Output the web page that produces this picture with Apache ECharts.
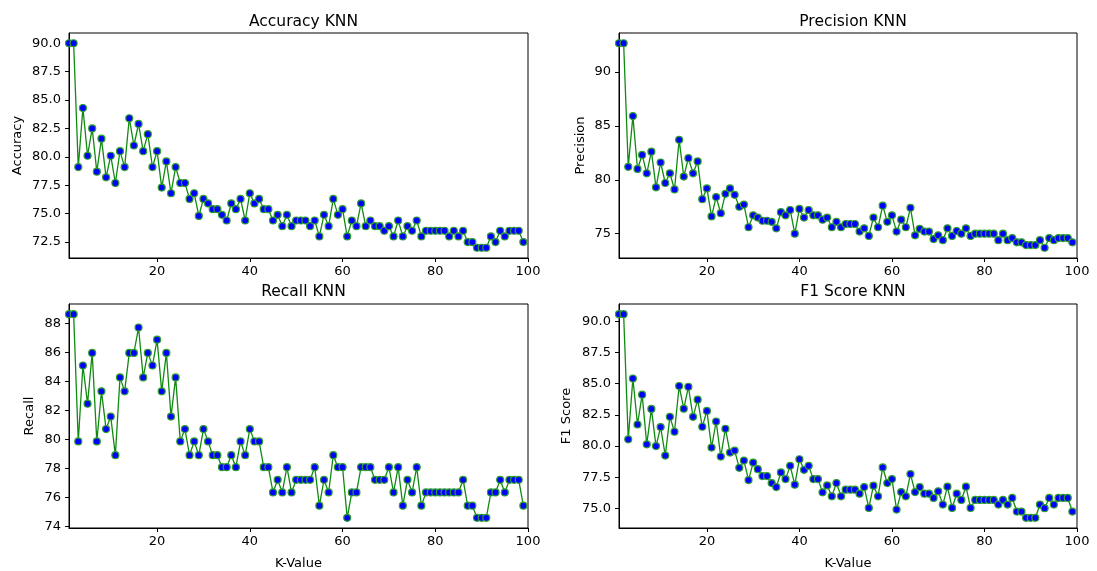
<!DOCTYPE html>
<html>
<head>
<meta charset="utf-8">
<script src="https://cdn.jsdelivr.net/npm/echarts@6/dist/echarts.min.js"></script>
<style>
html,body{margin:0;padding:0;background:#fff;}
#chart{width:1097px;height:571px;}
</style>
</head>
<body>
<div id="chart"></div>
<script>
const kValues = [1,2,3,4,5,6,7,8,9,10,11,12,13,14,15,16,17,18,19,20,21,22,23,24,25,26,27,28,29,30,31,32,33,34,35,36,37,38,39,40,41,42,43,44,45,46,47,48,49,50,51,52,53,54,55,56,57,58,59,60,61,62,63,64,65,66,67,68,69,70,71,72,73,74,75,76,77,78,79,80,81,82,83,84,85,86,87,88,89,90,91,92,93,94,95,96,97,98,99];

const accuracy = [90.0,90.0,79.1,84.3,80.1,82.5,78.7,81.6,78.2,80.1,77.7,80.5,79.1,83.4,81.0,82.9,80.5,82.0,79.1,80.5,
77.3,79.6,76.8,79.1,77.7,77.7,76.3,76.8,74.8,76.3,75.9,75.4,75.4,74.9,74.4,75.9,75.4,76.3,74.4,76.8,
75.9,76.3,75.4,75.4,74.4,74.9,73.9,74.9,73.9,74.4,74.4,74.4,73.9,74.4,73.0,74.9,73.9,76.3,74.9,75.4,
73.0,74.4,73.9,75.9,73.9,74.4,73.9,73.9,73.5,73.9,73.0,74.4,73.0,73.9,73.5,74.4,73.0,73.5,73.5,73.5,
73.5,73.5,73.0,73.5,73.0,73.5,72.5,72.5,72.0,72.0,72.0,73.0,72.5,73.5,73.0,73.5,73.5,73.5,72.5];

const precision = [92.65,92.65,81.2,85.9,81.0,82.3,80.6,82.6,79.3,81.6,79.7,80.6,79.1,83.7,80.3,82.0,80.6,81.7,78.2,79.2,
76.6,78.4,76.9,78.7,79.2,78.6,77.5,77.7,75.6,76.7,76.5,76.2,76.2,76.1,75.5,77.0,76.7,77.2,75.0,77.3,
76.5,77.2,76.7,76.7,76.3,76.5,75.6,76.1,75.6,75.9,75.9,75.9,75.2,75.5,74.8,76.5,75.6,77.6,76.1,76.7,
75.2,76.3,75.6,77.4,74.85,75.45,75.2,75.2,74.5,74.85,74.4,75.5,74.8,75.25,75.0,75.5,74.8,75.0,75.0,75.0,
75.0,75.0,74.4,75.0,74.4,74.6,74.2,74.2,73.95,73.95,73.95,74.4,73.7,74.6,74.4,74.6,74.6,74.6,74.2];

const recall = [88.62,88.62,79.85,85.08,82.45,85.95,79.85,83.3,80.7,81.56,78.9,84.26,83.3,85.95,85.95,87.7,84.26,85.95,85.08,86.86,
83.3,85.95,81.56,84.26,79.85,80.7,78.9,79.85,78.9,80.7,79.85,78.9,78.9,78.07,78.07,78.9,78.07,79.85,78.9,80.7,
79.85,79.85,78.07,78.07,76.33,77.2,76.33,78.07,76.33,77.2,77.2,77.2,77.2,78.07,75.42,77.2,76.33,78.9,78.07,78.07,
74.58,76.33,76.33,78.07,78.07,78.07,77.2,77.2,77.2,78.07,76.33,78.07,75.42,77.2,76.33,78.07,75.42,76.33,76.33,76.33,
76.33,76.33,76.33,76.33,76.33,77.2,75.42,75.42,74.58,74.58,74.58,76.33,76.33,77.2,76.33,77.2,77.2,77.2,75.42];

const f1Score = [90.56,90.56,80.54,85.41,81.73,84.12,80.14,82.98,80.0,81.52,79.24,82.34,81.15,84.81,83.0,84.75,82.34,83.72,81.55,82.82,
79.88,81.97,79.16,81.39,79.48,79.64,78.26,78.84,77.28,78.68,78.15,77.6,77.6,77.04,76.72,77.89,77.36,78.42,76.91,78.95,
78.1,78.42,77.36,77.36,76.3,76.85,75.98,77.04,75.98,76.51,76.51,76.51,76.19,76.72,75.05,76.83,75.98,78.29,77.04,77.36,
74.92,76.32,75.98,77.76,76.32,76.72,76.19,76.19,75.85,76.38,75.32,76.75,75.05,76.19,75.69,76.75,75.05,75.69,75.69,75.69,
75.69,75.69,75.32,75.69,75.32,75.85,74.76,74.76,74.26,74.26,74.26,75.32,75.03,75.85,75.32,75.85,75.85,75.85,74.76];

const titles = ['Accuracy KNN', 'Precision KNN', 'Recall KNN', 'F1 Score KNN'];
const yNames = ['Accuracy', 'Precision', 'Recall', 'F1 Score'];
const xName = 'K-Value';
const xTicks = [20, 40, 60, 80, 100];
const accTicks = [72.5, 75.0, 77.5, 80.0, 82.5, 85.0, 87.5, 90.0];
const precTicks = [75, 80, 85, 90];
const recTicks = [74, 76, 78, 80, 82, 84, 86, 88];
const f1Ticks = [75.0, 77.5, 80.0, 82.5, 85.0, 87.5, 90.0];

const FONT = 'DejaVu Sans';
const seriesValues = [accuracy, precision, recall, f1Score];
const yTicks = [accTicks, precTicks, recTicks, f1Ticks];
const yDecimals = [1, 0, 0, 1];
const yRanges = [[71.1, 90.9], [72.75, 93.6], [73.88, 89.32], [73.445, 91.375]];
const grids = [
  {left: 69, top: 33, width: 459, height: 225},
  {left: 619, top: 33, width: 458, height: 225},
  {left: 69, top: 304, width: 459, height: 224},
  {left: 619, top: 304, width: 458, height: 224}
];
const yNameGaps = [45, 32, 33, 46];

const chart = echarts.init(document.getElementById('chart'), null, {renderer: 'canvas'});

const option = {
  backgroundColor: '#ffffff',
  animation: false,
  textStyle: {fontFamily: FONT},
  title: titles.map((t, i) => ({
    text: t,
    left: grids[i].left + grids[i].width / 2,
    top: i < 2 ? 9 : 279,
    textAlign: 'center',
    textStyle: {fontFamily: FONT, fontSize: 15.5, fontWeight: 'normal', color: '#000'}
  })),
  grid: grids.map(g => Object.assign({show: true, borderColor: '#000', borderWidth: 1, backgroundColor: 'transparent', containLabel: false}, g)),
  xAxis: grids.map((g, i) => ({
    type: 'value',
    gridIndex: i,
    min: 1,
    max: 100,
    name: i >= 2 ? xName : '',
    nameLocation: 'middle',
    nameGap: 29,
    nameTextStyle: {fontFamily: FONT, fontSize: 13, color: '#000'},
    axisLine: {show: true, onZero: false, lineStyle: {color: '#000', width: 1}},
    axisTick: {show: true, length: 4, customValues: xTicks, lineStyle: {color: '#000'}},
    axisLabel: {show: true, customValues: xTicks, margin: 7, fontFamily: FONT, fontSize: 13, color: '#000'},
    splitLine: {show: false}
  })),
  yAxis: grids.map((g, i) => ({
    type: 'value',
    gridIndex: i,
    min: yRanges[i][0],
    max: yRanges[i][1],
    name: yNames[i],
    nameLocation: 'middle',
    nameRotate: 90,
    nameGap: yNameGaps[i],
    nameTextStyle: {fontFamily: FONT, fontSize: 13, color: '#000'},
    axisLine: {show: true, onZero: false, lineStyle: {color: '#000', width: 1}},
    axisTick: {show: true, length: 4, customValues: yTicks[i], lineStyle: {color: '#000'}},
    axisLabel: {show: true, customValues: yTicks[i], margin: 8, fontFamily: FONT, fontSize: 13, color: '#000',
      formatter: v => Number(v).toFixed(yDecimals[i])},
    splitLine: {show: false}
  })),
  series: seriesValues.map((vals, i) => ({
    type: 'line',
    xAxisIndex: i,
    yAxisIndex: i,
    data: kValues.map((k, j) => [k, vals[j]]),
    clip: true,
    showAllSymbol: true,
    symbol: 'circle',
    symbolSize: 7,
    lineStyle: {color: '#118a11', width: 1.3},
    itemStyle: {color: '#0000ff', borderColor: '#2f9f2f', borderWidth: 1.2},
    emphasis: {disabled: true}
  }))
};
chart.setOption(option);
</script>
</body>
</html>
